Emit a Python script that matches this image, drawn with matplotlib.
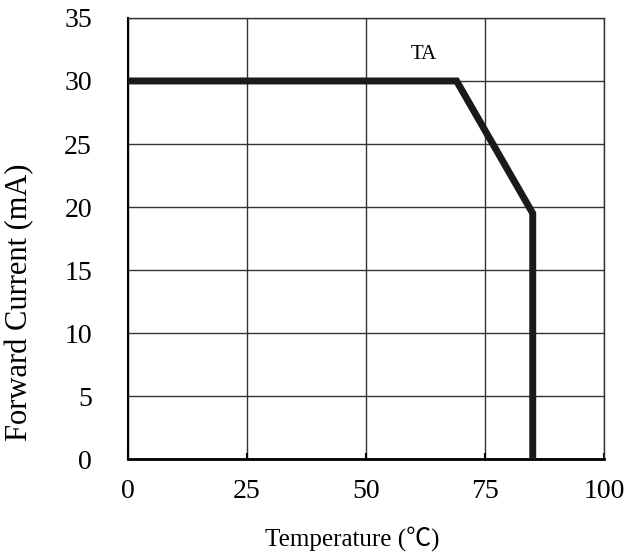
import matplotlib.pyplot as plt

# Derating curve: forward current vs. ambient temperature
temp = [0, 69, 85, 85]
current = [30, 30, 19.5, 0]

x_ticks = [0, 25, 50, 75, 100]
y_ticks = [0, 5, 10, 15, 20, 25, 30, 35]

plt.rcParams['font.family'] = ['Liberation Serif', 'DejaVu Serif']

fig = plt.figure(figsize=(6.4, 5.6), dpi=100)
ax = fig.add_axes([0.2, 0.18, 0.744, 0.788])

ax.plot(temp, current, color='#1a1a1a', linewidth=5, solid_joinstyle='miter', zorder=3)
ax.text(62.2, 32.1, 'TA', fontsize=15, ha='center', va='center')

ax.set_xlim(0, 100)
ax.set_ylim(0, 35)
ax.set_xticks(x_ticks)
ax.set_yticks(y_ticks)
ax.grid(True, color='#333333', linewidth=1.0)
ax.set_axisbelow(True)

ax.tick_params(axis='x', direction='in', length=4, width=1.5, pad=14, labelsize=20)
ax.tick_params(axis='y', length=0, pad=26, labelsize=20)
for s in ['top', 'right']:
    ax.spines[s].set_linewidth(1.0)
    ax.spines[s].set_color('#333333')
ax.spines['bottom'].set_linewidth(2)
ax.spines['left'].set_linewidth(1.5)

ax.set_xlabel('Temperature (\u2103)', fontsize=18,
              family=['Liberation Serif', 'Noto Sans CJK SC', 'DejaVu Sans'])
ax.xaxis.set_label_coords(0.47, -0.152)
ax.set_ylabel('Forward Current (mA)', fontsize=22)
ax.yaxis.set_label_coords(-0.197, 0.356)

fig.savefig('out.png', dpi=100)
